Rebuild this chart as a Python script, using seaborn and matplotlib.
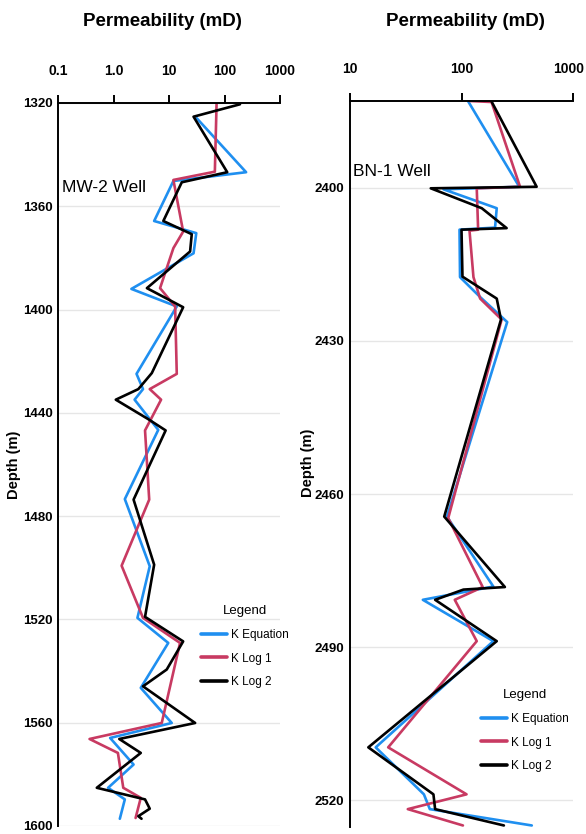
import numpy as np
import pandas as pd
import matplotlib
matplotlib.use("Agg")
import matplotlib.pyplot as plt
import matplotlib.transforms as mtransforms
from matplotlib.lines import Line2D
import seaborn as sns

# ---- MW-2 well (depth in m, permeability in mD) ----
mw_eq_depth = [1325.9, 1346.8, 1350.2, 1365.7, 1370.4, 1378.2, 1392.0, 1398.8, 1424.9, 1430.8,
               1434.9, 1446.6, 1473.4, 1499.4, 1519.4, 1529.1, 1546.5, 1560.1, 1565.9, 1576.2,
               1585.2, 1589.7, 1597.2]
mw_eq_perm = [31.6, 245, 12, 5.4, 31, 27.7, 2.1, 13.8, 2.6, 3.4,
              2.4, 6.4, 1.6, 4.5, 2.7, 9.7, 3.1, 11.2, 0.87, 2.3,
              0.8, 1.6, 1.3]

mw_l1_depth = [1320.1, 1346.6, 1349.8, 1369.8, 1376.2, 1391.7, 1398.8, 1424.9, 1430.8, 1434.9,
               1446.8, 1473.6, 1499.2, 1519.4, 1529.1, 1560.1, 1566.3, 1571.7, 1585.2, 1589.1,
               1596.9]
mw_l1_perm = [72, 67, 12, 18, 12, 6.9, 12.9, 13.8, 4.5, 7.2,
              3.7, 4.4, 1.4, 3.4, 15.8, 7.4, 0.37, 1.2, 1.5, 3.1,
              2.5]

mw_l2_depth = [1320.5, 1325.3, 1346.8, 1350.7, 1365.7, 1370.8, 1377.5, 1391.7, 1399.1, 1424.6,
               1430.8, 1434.9, 1442.4, 1446.8, 1473.6, 1498.8, 1519.0, 1528.5, 1539.4, 1545.9,
               1560.1, 1566.3, 1571.7, 1585.2, 1589.7, 1593.3, 1596.2, 1597.2]
mw_l2_perm = [190, 27.7, 112, 17, 7.9, 25.7, 24, 4.0, 18, 4.9,
              2.8, 1.1, 4.2, 8.7, 2.3, 5.4, 3.7, 18, 9.1, 3.4,
              29.6, 1.27, 3.1, 0.50, 3.7, 4.5, 2.8, 3.2]

# ---- BN-1 well ----
bn_eq_depth = [2383.1, 2399.8, 2400.3, 2404.0, 2407.8, 2408.2, 2417.5, 2421.4, 2426.3, 2464.4,
               2478.1, 2480.7, 2488.8, 2509.6, 2518.8, 2521.7, 2524.9]
bn_eq_perm = [115, 330, 69, 207, 200, 96, 97, 147, 257, 74,
              193, 45, 193, 17, 46, 52, 427]

bn_l1_depth = [2383.0, 2383.2, 2399.8, 2400.1, 2408.2, 2408.4, 2417.5, 2421.7, 2425.8, 2464.7,
               2478.2, 2480.7, 2488.8, 2509.6, 2518.8, 2521.7, 2524.9]
bn_l1_perm = [118, 186, 335, 137, 141, 118, 128, 147, 229, 76,
              155, 87, 137, 22, 111, 33, 103]

bn_l2_depth = [2383.1, 2399.8, 2400.1, 2404.0, 2407.9, 2408.2, 2417.4, 2421.7, 2425.8, 2464.4,
               2478.2, 2478.7, 2480.7, 2488.8, 2509.6, 2518.8, 2521.7, 2524.9]
bn_l2_perm = [186, 472, 53, 152, 254, 100, 102, 207, 226, 70,
              245, 104, 58, 207, 14.6, 56, 58, 240]

mw_xticks = [0.1, 1, 10, 100, 1000]
mw_xlabels = ["0.1", "1.0", "10", "100", "1000"]
bn_xticks = [10, 100, 1000]
bn_xlabels = ["10", "100", "1000"]
mw_yticks = [1320, 1360, 1400, 1440, 1480, 1520, 1560, 1600]
bn_yticks = [2400, 2430, 2460, 2490, 2520]

curve_names = ["K Equation", "K Log 1", "K Log 2"]
curve_colors = ["#1f8ff0", "#c83a62", "#000000"]


def frame(series):
    parts = []
    for name, (d, p) in zip(curve_names, series):
        parts.append(pd.DataFrame({"depth": d, "perm": p, "curve": name}))
    return pd.concat(parts, ignore_index=True)


mw = frame([(mw_eq_depth, mw_eq_perm), (mw_l1_depth, mw_l1_perm), (mw_l2_depth, mw_l2_perm)])
bn = frame([(bn_eq_depth, bn_eq_perm), (bn_l1_depth, bn_l1_perm), (bn_l2_depth, bn_l2_perm)])

sns.set_style("white")
plt.rcParams["font.family"] = ["Liberation Sans", "DejaVu Sans"]
plt.rcParams["text.color"] = "black"
plt.rcParams["xtick.color"] = "black"
plt.rcParams["ytick.color"] = "black"

W, H = 586, 834
fig = plt.figure(figsize=(W / 100, H / 100), dpi=100)


def px_axes(x0, y0, x1, y1):
    return fig.add_axes([x0 / W, 1 - y1 / H, (x1 - x0) / W, (y1 - y0) / H])


ax1 = px_axes(58, 103, 280, 826)
ax2 = px_axes(350, 101, 573, 827)

palette = dict(zip(curve_names, curve_colors))

for ax, df in [(ax1, mw), (ax2, bn)]:
    sns.lineplot(data=df, x="perm", y="depth", hue="curve", palette=palette,
                 sort=False, estimator=None, orient="y", linewidth=1.9, ax=ax,
                 legend=False)
    ax.set_xscale("log")
    ax.xaxis.tick_top()
    for s in ["right", "bottom"]:
        ax.spines[s].set_visible(False)
    for s in ["top", "left"]:
        ax.spines[s].set_color("black")
        ax.spines[s].set_linewidth(1.4)
    ax.grid(axis="y", color="#e6e6e6", linewidth=1.0)
    ax.grid(axis="x", visible=False)
    ax.set_xlabel("")
    ax.set_ylabel("")

# MW-2 scales
ax1.set_xlim(0.1, 1000)
ax1.set_xticks(mw_xticks)
ax1.set_xticklabels(mw_xlabels)
ax1.set_ylim(1600, 1320)
ax1.set_yticks(mw_yticks)
ax1.set_yticklabels([str(v) for v in mw_yticks])

# BN-1 scales
ax2.set_xlim(10, 1000)
ax2.set_xticks(bn_xticks)
ax2.set_xticklabels(bn_xlabels)
ax2.set_ylim(2525.2, 2383.0)
ax2.set_yticks(bn_yticks)
ax2.set_yticklabels([str(v) for v in bn_yticks])

for ax in (ax1, ax2):
    ax.minorticks_off()
    ax.tick_params(axis="x", which="major", direction="out", length=6, width=1.4,
                   color="black", pad=12, labelsize=10)
    ax.tick_params(axis="y", length=0, pad=4, labelsize=9.5)
    for lab in ax.get_xticklabels() + ax.get_yticklabels():
        lab.set_fontweight("bold")

# keep the last top label of the right track inside the canvas
last = ax2.get_xticklabels()[-1]
last.set_transform(last.get_transform() +
                   mtransforms.ScaledTranslation(-4 / 100, 0, fig.dpi_scale_trans))

# titles and labels
for xc in (162, 465):
    fig.text(xc / W, 1 - 22 / H, "Permeability (mD)", ha="center", va="center",
             fontsize=13.5, fontweight="bold")
fig.text(14 / W, 1 - 465 / H, "Depth (m)", rotation=90, ha="center", va="center",
         fontsize=10.5, fontweight="bold")
fig.text(308 / W, 1 - 463 / H, "Depth (m)", rotation=90, ha="center", va="center",
         fontsize=10.5, fontweight="bold")
fig.text(62 / W, 1 - 188 / H, "MW-2 Well", ha="left", va="center", fontsize=12.5)
fig.text(353 / W, 1 - 171 / H, "BN-1 Well", ha="left", va="center", fontsize=12.5)

# legends
handles = [Line2D([0], [0], color=c, linewidth=2.6) for c in curve_colors]
for ax, anchor in [(ax1, (201 / W, 1 - 605 / H)), (ax2, (481 / W, 1 - 689 / H))]:
    ax.legend(handles, curve_names, title="Legend", frameon=False,
              loc="upper left", bbox_to_anchor=anchor,
              bbox_transform=fig.transFigure, fontsize=8.5, title_fontsize=9.5,
              handlelength=2.2, handletextpad=0.35, labelspacing=1.0,
              borderaxespad=0, borderpad=0)

fig.savefig("out.png", dpi=100)
